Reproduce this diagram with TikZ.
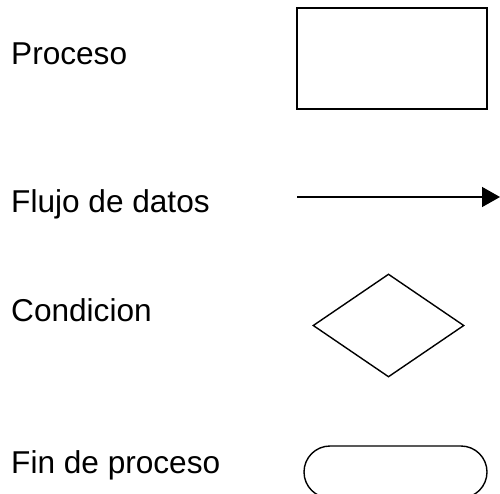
\documentclass[tikz,border=0pt]{standalone}
\usepackage{fontspec}
\setmainfont{Liberation Sans}
\usetikzlibrary{arrows.meta,shapes.geometric,shapes.misc}
\begin{document}
\begin{tikzpicture}[x=1pt,y=-1pt]
\tikzstyle{every node}=[font=\fontsize{31.6}{36}\selectfont,inner sep=0pt];
\tikzstyle{label}=[anchor=base west];
\tikzstyle{symbol}=[draw,line width=1.4pt];
\useasboundingbox (0,0) rectangle (500,493);
\clip (0,0) rectangle (500,493);
% labels on the left
\path (11,64.5) node[label] (proc) {Proceso};
\path (11,212.5) node[label] (flujo) {Flujo de datos};
\path (11,321.5) node[label] (cond) {Condicion};
\path (11,473.5) node[label] (fin) {Fin de proceso};
% symbols on the right
\path (392,58.5) node[symbol,rectangle,minimum width=190pt,minimum height=101pt] (procBox) {};
\coordinate (flujoA) at (297,197);
\coordinate (flujoB) at (500,197);
\draw[line width=1.4pt,-{Triangle[length=18pt,width=20pt]}] (flujoA) -- (flujoB);
\path (388.5,325.5) node[symbol,diamond,aspect=1.47,minimum width=151pt,minimum height=103pt] (condBox) {};
\path (395.5,472) node[symbol,rounded rectangle,minimum width=183pt,minimum height=52pt] (finBox) {};
\end{tikzpicture}
\end{document}
